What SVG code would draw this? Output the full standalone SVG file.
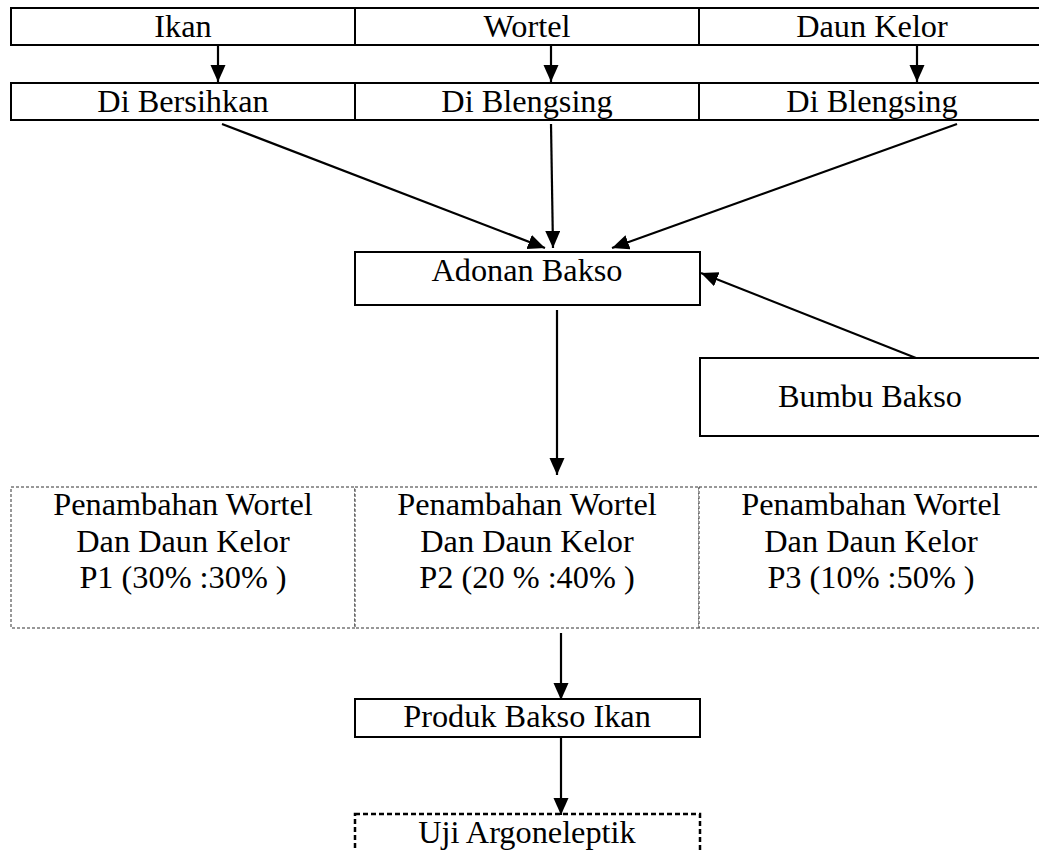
<svg xmlns="http://www.w3.org/2000/svg" width="1039" height="851" viewBox="0 0 1039 851">
<style>
.box{fill:#fff;stroke:#000;stroke-width:2}
.dbox{fill:#fff;stroke:#333;stroke-width:1;stroke-dasharray:3,2}
.dthick{fill:#fff;stroke:#000;stroke-width:2.5;stroke-dasharray:5,3}
.t{font-family:"Liberation Serif","Times New Roman",serif;font-size:32.3px;fill:#000;text-anchor:middle}
.c{stroke:#000;stroke-width:2.2;fill:none;marker-end:url(#ah)}
</style>
<defs>
<marker id="ah" markerUnits="userSpaceOnUse" markerWidth="18" markerHeight="16" refX="17" refY="7.5" orient="auto">
<path d="M0,0 L17,7.5 L0,15 z" fill="#000"/>
</marker>
</defs>
<rect width="1039" height="851" fill="#fff"/>
<g id="ikan"><rect class="box" x="11" y="8" width="344" height="37"/><text class="t" x="183" y="37">Ikan</text></g>
<g id="wortel"><rect class="box" x="355" y="8" width="344" height="37"/><text class="t" x="527" y="37">Wortel</text></g>
<g id="daun"><rect class="box" x="699" y="8" width="350" height="37"/><text class="t" x="872" y="37">Daun Kelor</text></g>
<g id="bersih"><rect class="box" x="11" y="83" width="344" height="37"/><text class="t" x="183" y="112">Di Bersihkan</text></g>
<g id="blend1"><rect class="box" x="355" y="83" width="344" height="37"/><text class="t" x="527" y="112">Di Blengsing</text></g>
<g id="blend2"><rect class="box" x="699" y="83" width="350" height="37"/><text class="t" x="872" y="112">Di Blengsing</text></g>
<g id="adonan"><rect class="box" x="355" y="252" width="345" height="53"/><text class="t" x="527" y="281">Adonan Bakso</text></g>
<g id="bumbu"><rect class="box" x="700" y="358" width="350" height="78"/><text class="t" x="870" y="407">Bumbu Bakso</text></g>
<g id="p1"><rect class="dbox" x="11" y="487" width="344" height="141"/><text class="t" x="183" y="515">Penambahan Wortel</text><text class="t" x="183" y="552">Dan Daun Kelor</text><text class="t" x="183" y="588">P1 (30% :30% )</text></g>
<g id="p2"><rect class="dbox" x="355" y="487" width="344" height="141"/><text class="t" x="527" y="515">Penambahan Wortel</text><text class="t" x="527" y="552">Dan Daun Kelor</text><text class="t" x="527" y="588">P2 (20 % :40% )</text></g>
<g id="p3"><rect class="dbox" x="699" y="487" width="350" height="141"/><text class="t" x="871" y="515">Penambahan Wortel</text><text class="t" x="871" y="552">Dan Daun Kelor</text><text class="t" x="871" y="588">P3 (10% :50% )</text></g>
<g id="produk"><rect class="box" x="355" y="699" width="345" height="38"/><text class="t" x="527" y="727">Produk Bakso Ikan</text></g>
<g id="uji"><rect class="dthick" x="355" y="814" width="345" height="60"/><text class="t" x="527" y="843">Uji Argoneleptik</text></g>
<g id="connectors">
<line class="c" x1="218" y1="45" x2="218" y2="82"/>
<line class="c" x1="551" y1="45" x2="551" y2="82"/>
<line class="c" x1="917" y1="45" x2="917" y2="82"/>
<line class="c" x1="222" y1="124" x2="545" y2="248"/>
<line class="c" x1="551" y1="124" x2="553" y2="248"/>
<line class="c" x1="957" y1="124" x2="612" y2="248"/>
<line class="c" x1="916" y1="358" x2="701" y2="273"/>
<line class="c" x1="557" y1="310" x2="557" y2="475"/>
<line class="c" x1="561" y1="633" x2="561" y2="700"/>
<line class="c" x1="561" y1="737" x2="561" y2="815"/>
</g>
</svg>
